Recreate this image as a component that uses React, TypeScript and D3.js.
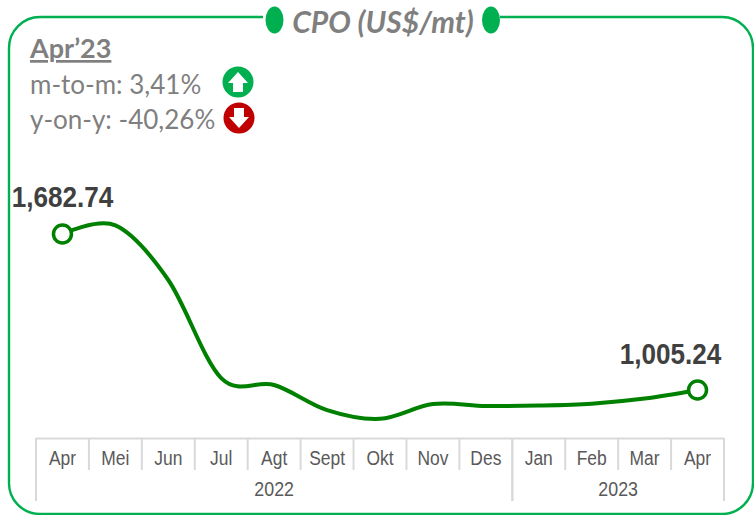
import React from "react";
import * as d3 from "d3";

const months = ["Apr","Mei","Jun","Jul","Agt","Sept","Okt","Nov","Des","Jan","Feb","Mar","Apr"];
const prices = [1682.74,1720,1483,1057,1027,918,880,944,936,938,946,968,1005.24];
const years = [{ label: "2022", count: 9 }, { label: "2023", count: 4 }];
const title = "CPO (US$/mt)";
const period = "Apr’23";
const stats = ["m-to-m: 3,41%", "y-on-y: -40,26%"];

const GREEN = "#00b050";
const LINE = "#008000";
const GREY = "#7f7f7f";
const AXIS = "#d9d9d9";
const TICK = "#595959";
const LABEL = "#404040";
const BODY = "Lato, 'Open Sans', sans-serif";
const ARIAL = "'Liberation Sans', sans-serif";

const x = d3.scaleBand<number>().domain(months.map((_, i) => i)).range([36, 724]);
const y = d3.scaleLinear().domain([1005.24, 1682.74]).range([390, 234]);
const line = d3
  .line<number>()
  .x((_, i) => x(i)! + x.bandwidth() / 2)
  .y((d) => y(d))
  .curve(d3.curveCatmullRom.alpha(0));

function Arrow({ cx, cy, fill, up }: { cx: number; cy: number; fill: string; up: boolean }) {
  const s = up ? 1 : -1;
  return (
    <g transform={`translate(${cx},${cy}) scale(1,${s})`}>
      <circle r={15.5} fill={fill} />
      <path d="M0,-10 L10,1 L5,1 L5,10 L-5,10 L-5,1 L-10,1 Z" fill="#fff" />
    </g>
  );
}

function Narrow({ cx, yy, sx, size, weight, fill, children }: { cx: number; yy: number; sx: number; size: number; weight?: number; fill: string; children: React.ReactNode }) {
  return (
    <text transform={`translate(${cx},${yy}) scale(${sx},1)`} textAnchor="middle" fontFamily={ARIAL} fontSize={size} fontWeight={weight ?? 400} fill={fill}>
      {children}
    </text>
  );
}

export default function App() {
  let start = 0;
  return (
    <svg width={754} height={515} style={{ position: "fixed", left: 0, top: 0, background: "#fff" }}>
      <path
        d="M263,17 H40 A31,31 0 0 0 9,48 V482 A31,31 0 0 0 40,514 H722 A31,31 0 0 0 753,483 V48 A31,31 0 0 0 722,17 H500"
        fill="none"
        stroke={GREEN}
        strokeWidth={2.4}
      />
      <ellipse cx={274.5} cy={20} rx={9} ry={13.5} fill={GREEN} />
      <ellipse cx={491} cy={20} rx={9} ry={13.5} fill={GREEN} />
      <text x={383} y={33} textAnchor="middle" fontFamily={BODY} fontStyle="italic" fontWeight={700} fontSize={30} fill={GREY}>
        {title}
      </text>
      <text x={30} y={58} fontFamily={BODY} fontWeight={700} fontSize={27} fill={GREY} textDecoration="underline">
        {period}
      </text>
      {stats.map((s, i) => (
        <text key={s} x={30} y={94 + i * 35} fontFamily={BODY} fontSize={26} fill={GREY}>
          {s}
        </text>
      ))}
      <Arrow cx={238} cy={82} fill={GREEN} up />
      <Arrow cx={239} cy={118} fill="#c00000" up={false} />

      <path d={line(prices)!} fill="none" stroke={LINE} strokeWidth={4} strokeLinecap="round" />
      {[0, prices.length - 1].map((i) => (
        <circle key={i} cx={x(i)! + x.bandwidth() / 2} cy={y(prices[i])} r={9} fill="#fff" stroke={LINE} strokeWidth={3.5} />
      ))}
      <Narrow cx={62.5} yy={207} sx={0.87} size={30} weight={700} fill={LABEL}>1,682.74</Narrow>
      <Narrow cx={670.5} yy={364} sx={0.87} size={30} weight={700} fill={LABEL}>1,005.24</Narrow>

      <g>
        <line x1={36} x2={724} y1={438.5} y2={438.5} stroke={AXIS} strokeWidth={2} />
        {months.map((m, i) => (
          <g key={i}>
            {i > 0 && i !== 9 && (
              <line x1={x(i)!} x2={x(i)!} y1={438} y2={470} stroke={AXIS} strokeWidth={2} />
            )}
            <Narrow cx={x(i)! + x.bandwidth() / 2} yy={465} sx={0.83} size={21} fill={TICK}>{m}</Narrow>
          </g>
        ))}
        {years.map((yr) => {
          const a = x(start)!;
          const b = a + yr.count * x.bandwidth();
          start += yr.count;
          return (
            <g key={yr.label}>
              <line x1={a} x2={a} y1={438} y2={501} stroke={AXIS} strokeWidth={2} />
              <line x1={b} x2={b} y1={438} y2={501} stroke={AXIS} strokeWidth={2} />
              <Narrow cx={(a + b) / 2} yy={496} sx={0.85} size={21} fill={TICK}>{yr.label}</Narrow>
            </g>
          );
        })}
      </g>
    </svg>
  );
}
